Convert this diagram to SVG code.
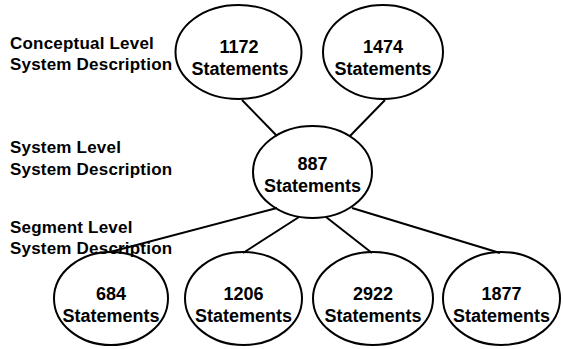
<svg xmlns="http://www.w3.org/2000/svg" width="563" height="349" viewBox="0 0 563 349">
<style>
.lbl{font-family:"Liberation Sans",Arial,sans-serif;font-weight:bold;font-size:17px;letter-spacing:0.2px;fill:#000}
.nt{font-family:"Liberation Sans",Arial,sans-serif;font-weight:bold;font-size:18px;fill:#000;text-anchor:middle}
.el{fill:none;stroke:#000;stroke-width:2}
.cn line{stroke:#000;stroke-width:2}
</style>
<rect width="563" height="349" fill="#fff"/>
<g id="labels">
<text class="lbl" x="10" y="49">Conceptual Level</text>
<text class="lbl" x="10" y="70">System Description</text>
<text class="lbl" x="10" y="153">System Level</text>
<text class="lbl" x="10" y="175">System Description</text>
<text class="lbl" x="10" y="233">Segment Level</text>
<text class="lbl" x="10" y="254">System Description</text>
</g>
<g id="n1172"><ellipse class="el" cx="238.5" cy="52" rx="63" ry="47"/><text class="nt" x="239" y="53">1172</text><text class="nt" x="240" y="75">Statements</text></g>
<g id="n1474"><ellipse class="el" cx="383" cy="52" rx="60" ry="47"/><text class="nt" x="383" y="53">1474</text><text class="nt" x="383" y="75">Statements</text></g>
<g id="n887"><ellipse class="el" cx="312.5" cy="172" rx="59.5" ry="46"/><text class="nt" x="312.5" y="170">887</text><text class="nt" x="312.5" y="192">Statements</text></g>
<g id="n684"><ellipse class="el" cx="111" cy="298.5" rx="57" ry="46.5"/><text class="nt" x="111" y="300">684</text><text class="nt" x="111" y="322">Statements</text></g>
<g id="n1206"><ellipse class="el" cx="243.5" cy="298.5" rx="58.5" ry="46.5"/><text class="nt" x="243.5" y="300">1206</text><text class="nt" x="243.5" y="322">Statements</text></g>
<g id="n2922"><ellipse class="el" cx="373" cy="298.5" rx="60" ry="46.5"/><text class="nt" x="373" y="300">2922</text><text class="nt" x="373" y="322">Statements</text></g>
<g id="n1877"><ellipse class="el" cx="501.5" cy="298.5" rx="58.5" ry="46.5"/><text class="nt" x="501.5" y="300">1877</text><text class="nt" x="501.5" y="322">Statements</text></g>
<g id="connectors" class="cn">
<line x1="242" y1="100" x2="277" y2="136"/>
<line x1="385" y1="100" x2="350" y2="136"/>
<line x1="277" y1="208" x2="110" y2="252"/>
<line x1="299" y1="217" x2="243" y2="253"/>
<line x1="326" y1="217" x2="372" y2="253"/>
<line x1="352" y1="208" x2="500" y2="253"/>
</g>
</svg>
